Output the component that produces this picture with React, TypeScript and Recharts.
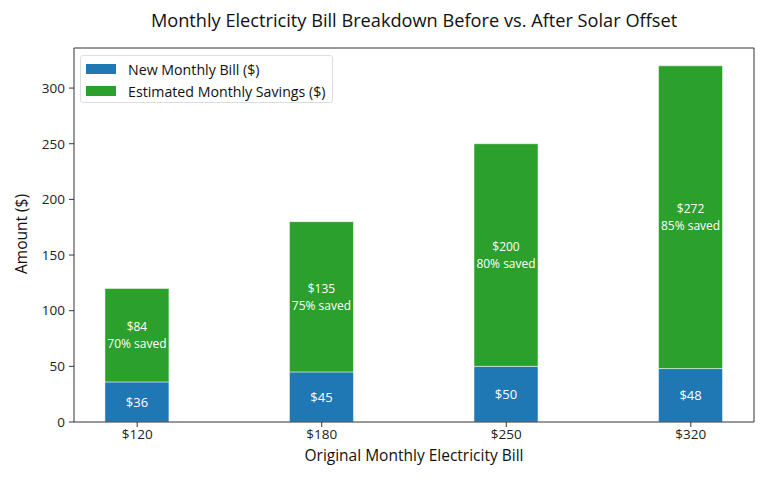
// Stacked bars: new bill (blue) under the savings from solar (green), one bar per original bill.
import { Bar, BarChart, LabelList, ReferenceLine, XAxis, YAxis } from "recharts";

const originalBills = ["$120", "$180", "$250", "$320"];
const newBill = [36, 45, 50, 48];
const savings = [84, 135, 200, 272];
const savedPct = [70, 75, 80, 85];
const yTicks = [0, 50, 100, 150, 200, 250, 300];

const BLUE = "#1f77b4";
const GREEN = "#2ca02c";
const FONT = "'Open Sans', 'Noto Sans', sans-serif";
const X_DOMAIN: [number, number] = [-0.3425, 3.3425];
const Y_MAX = 336;

const data = originalBills.map((label, i) => ({
  x: i,
  label,
  newBill: newBill[i],
  savings: savings[i],
  pct: savedPct[i],
}));

const legendItems = [
  { name: "New Monthly Bill ($)", color: BLUE },
  { name: "Estimated Monthly Savings ($)", color: GREEN },
];

// two lines, amount on top and share saved below, centred in the green segment
function SavingsLabel(props: any) {
  const { x, y, width, height, index } = props;
  const cx = x + width / 2;
  const cy = y + height / 2;
  const d = data[index];
  return (
    <g>
      <text x={cx} y={cy - 8.3} textAnchor="middle" dominantBaseline="central" fill="#fff" fontSize={12} fontFamily={FONT}>
        {`$${d.savings}`}
      </text>
      <text x={cx} y={cy + 8.3} textAnchor="middle" dominantBaseline="central" fill="#fff" fontSize={12} fontFamily={FONT}>
        {`${d.pct}% saved`}
      </text>
    </g>
  );
}

export default function App() {
  return (
    <div style={{ position: "absolute", left: 0, top: 0, width: 768, height: 480, background: "#fff", fontFamily: FONT }}>
      <BarChart width={768} height={480} data={data} margin={{ top: 48, right: 14, bottom: 28, left: 0 }}>
        <XAxis
          dataKey="x"
          type="number"
          domain={X_DOMAIN}
          ticks={[0, 1, 2, 3]}
          tickFormatter={(v) => originalBills[v] ?? ""}
          tick={{ fontSize: 13.5, fill: "#222", fontFamily: FONT }}
          tickSize={5}
          stroke="#333"
          height={30}
          allowDataOverflow
        />
        <YAxis
          domain={[0, Y_MAX]}
          ticks={yTicks}
          tick={{ fontSize: 13.5, fill: "#222", fontFamily: FONT, dx: -2 }}
          tickSize={5}
          stroke="#333"
          width={74}
          allowDataOverflow
        />
        <ReferenceLine y={Y_MAX} stroke="#333" />
        <ReferenceLine x={X_DOMAIN[1]} stroke="#333" />
        <Bar dataKey="newBill" stackId="a" fill={BLUE} barSize={64} stroke="#fff" strokeWidth={0.5} isAnimationActive={false}>
          <LabelList dataKey="newBill" position="center" formatter={(v: any) => `$${v}`} fill="#fff" fontSize={13} fontFamily={FONT} />
        </Bar>
        <Bar dataKey="savings" stackId="a" fill={GREEN} barSize={64} stroke="#fff" strokeWidth={0.5} isAnimationActive={false}>
          <LabelList dataKey="savings" content={SavingsLabel} />
        </Bar>
      </BarChart>

      <div style={{ position: "absolute", top: 8, left: 74, width: 680, textAlign: "center", fontSize: 18.2, color: "#111" }}>
        Monthly Electricity Bill Breakdown Before vs. After Solar Offset
      </div>
      <div style={{ position: "absolute", top: 444, left: 74, width: 680, textAlign: "center", fontSize: 15.5, color: "#111" }}>
        Original Monthly Electricity Bill
      </div>
      <div
        style={{
          position: "absolute",
          left: 21,
          top: 234,
          transform: "translate(-50%, -50%) rotate(-90deg)",
          whiteSpace: "nowrap",
          fontSize: 15.5,
          color: "#111",
        }}
      >
        Amount ($)
      </div>

      <div
        style={{
          position: "absolute",
          left: 80,
          top: 55,
          width: 253,
          height: 48,
          border: "1px solid #ddd",
          borderRadius: 3,
          background: "rgba(255,255,255,0.85)",
          boxSizing: "border-box",
        }}
      >
        {legendItems.map((item, i) => (
          <div key={item.name} style={{ position: "absolute", left: 5, top: 6 + i * 22, height: 14, display: "flex", alignItems: "center" }}>
            <div style={{ width: 30, height: 10, background: item.color }} />
            <span style={{ marginLeft: 12, fontSize: 14.2, color: "#111", whiteSpace: "nowrap" }}>{item.name}</span>
          </div>
        ))}
      </div>
    </div>
  );
}
